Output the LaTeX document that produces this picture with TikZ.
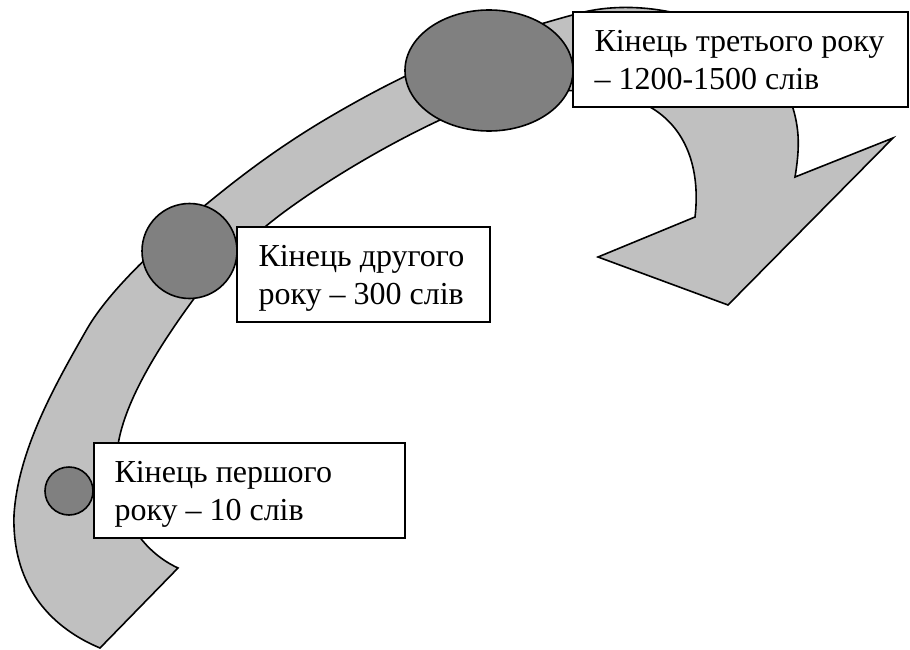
\documentclass[tikz,border=0pt]{standalone}
\usepackage{fontspec}
\setmainfont{Liberation Serif}
\usetikzlibrary{shapes.geometric}
\definecolor{bandgray}{HTML}{C0C0C0}
\definecolor{dotgray}{HTML}{808080}
\tikzset{
  band/.style={draw=black, fill=bandgray, line width=1.6pt, line join=miter},
  dot/.style={draw=black, fill=dotgray, line width=1.6pt, circle, inner sep=0pt},
  oval/.style={draw=black, fill=dotgray, line width=1.6pt, ellipse, inner sep=0pt},
  labelbox/.style={draw=black, fill=white, line width=1.4pt, rectangle, inner sep=0pt},
  labeltext/.style={anchor=base west, align=left, inner sep=0pt, font=\fontsize{32}{38}\selectfont}
}
\begin{document}
\begin{tikzpicture}[x=1pt, y=-1pt]
\useasboundingbox (0,0) rectangle (910,650);
% curved arrow
\draw[band] (178,568) -- (100,648)
  .. controls (45,625) and (12,580) .. (14,515)
  .. controls (18,450) and (55,385) .. (87,329)
  .. controls (110,289) and (162,242) .. (203,207)
  .. controls (250,168) and (290,140) .. (333,115)
  .. controls (400,76) and (470,42) .. (580,13)
  .. controls (660,-8) and (790,30) .. (798,135)
  .. controls (799,150) and (797,165) .. (795,177)
  -- (893,138) -- (728,305) -- (598,257) -- (695,217)
  .. controls (700,175) and (690,130) .. (650,107)
  .. controls (600,82) and (520,85) .. (440,120)
  .. controls (380,148) and (320,185) .. (280,215)
  .. controls (245,242) and (215,270) .. (193,300)
  .. controls (160,345) and (125,400) .. (118,445)
  .. controls (110,500) and (135,548) .. (178,568)
  -- cycle;
% markers
\node[dot, minimum size=48pt] (c1) at (69,491) {};
\node[dot, minimum size=95pt] (c2) at (189.5,251) {};
\node[oval, minimum width=168pt, minimum height=121pt] (c3) at (489,70.5) {};
% boxes
\node[labelbox, minimum width=311pt, minimum height=95pt] (b1) at (249.5,490.5) {};
\node[labelbox, minimum width=253pt, minimum height=95pt] (b2) at (363.5,274.5) {};
\node[labelbox, minimum width=335pt, minimum height=95pt] (b3) at (740.5,59.5) {};
\node[labeltext] (t1) at ([xshift=21pt,yshift=-78pt]b1.north west) {Кінець першого\\року – 10 слів};
\node[labeltext] (t2) at ([xshift=22pt,yshift=-78pt]b2.north west) {Кінець другого\\року – 300 слів};
\node[labeltext] (t3) at ([xshift=22pt,yshift=-78pt]b3.north west) {Кінець третього року\\– 1200-1500 слів};
\end{tikzpicture}
\end{document}
